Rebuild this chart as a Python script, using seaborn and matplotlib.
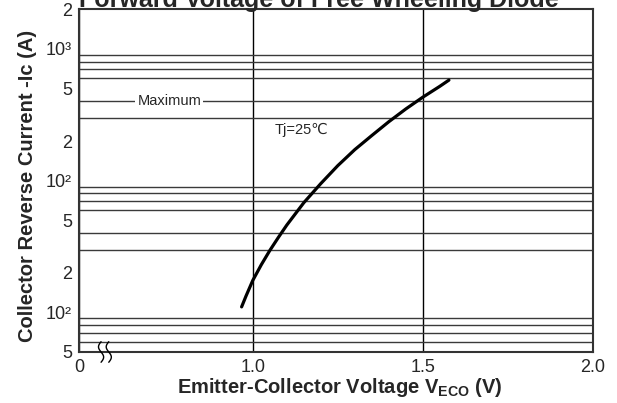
import numpy as np
import pandas as pd
import matplotlib
matplotlib.use("Agg")
import matplotlib.pyplot as plt
from matplotlib.ticker import FixedLocator, LogLocator, NullFormatter
import seaborn as sns

# values (Tj=25C)
voltage = [0.967, 0.98, 1.00, 1.025, 1.05, 1.075, 1.10, 1.15, 1.20, 1.25, 1.30, 1.35, 1.40, 1.45, 1.50, 1.55, 1.577]
current = [11, 13.3, 17.5, 23, 29.5, 37, 46, 68, 95, 130, 172, 220, 280, 350, 430, 520, 580]

y_ticks = [5, 10, 20, 50, 100, 200, 500, 1000, 2000]
y_labels = ["5", "10²", "2", "5", "10²", "2", "5", "10³", "2"]
x_ticks = [0.4885, 1.0, 1.5, 2.0]
x_labels = ["0", "1.0", "1.5", "2.0"]

sns.set_style("white")
plt.rcParams['font.family'] = ['Liberation Sans', 'DejaVu Sans']
plt.rcParams['mathtext.fontset'] = 'custom'
plt.rcParams['mathtext.rm'] = 'Liberation Sans:bold'

fig = plt.figure(figsize=(6.17, 4.03), dpi=100)
ax = fig.add_axes([0.128, 0.1266, 0.8326, 0.8503])

df = pd.DataFrame({"V": voltage, "Ic": current})
sns.lineplot(data=df, x="V", y="Ic", color="black", lw=2.3, ax=ax, zorder=5)

ax.set_yscale("log")
ax.set_xlim(x_ticks[0], x_ticks[-1])
ax.set_ylim(y_ticks[0], y_ticks[-1])

ax.yaxis.set_major_locator(FixedLocator(y_ticks))
ax.set_yticklabels(y_labels)
ax.yaxis.set_minor_locator(LogLocator(base=10, subs=np.arange(1, 10)))
ax.yaxis.set_minor_formatter(NullFormatter())
ax.set_xticks(x_ticks)
ax.set_xticklabels(x_labels)
ax.tick_params(axis="both", which="both", length=0, labelsize=13, pad=5)

ax.grid(True, axis="y", which="minor", color="#3a3a3a", lw=1.0)
ax.grid(True, axis="x", which="major", color="black", lw=1.0)
ax.set_axisbelow(True)

for s in ax.spines.values():
    s.set_color("#333333")
    s.set_linewidth(1.5)

ax.set_xlabel("Emitter-Collector Voltage V$_{\\mathrm{ECO}}$ (V)", fontsize=14.5,
              fontweight="bold", va="center")
ax.xaxis.set_label_coords(0.508, -0.105)
ax.set_ylabel("Collector Reverse Current -Ic (A)", fontsize=14.5,
              fontweight="bold", va="center")
ax.yaxis.set_label_coords(-0.101, 0.484)

fig.text(0.517, 0.983, "Forward Voltage of Free Wheeling Diode", ha="center",
         va="baseline", fontsize=18, fontweight="bold")

ax.text(0.66, 400, "Maximum", fontsize=10.5, ha="left", va="center",
        bbox=dict(facecolor="white", edgecolor="none", pad=1.5), zorder=4)
ax.text(1.065, 243, "Tj=25℃", fontsize=10.5, ha="left", va="center", zorder=4)

# axis break marks
t = np.linspace(-1, 1, 30)
for x0 in [0.043, 0.058]:
    ax.plot(x0 + 0.005 * np.sin(np.pi * t), -0.03 * t, color="black", lw=1.0,
            transform=ax.transAxes, clip_on=False, zorder=6)

fig.savefig("out.png", dpi=100)
